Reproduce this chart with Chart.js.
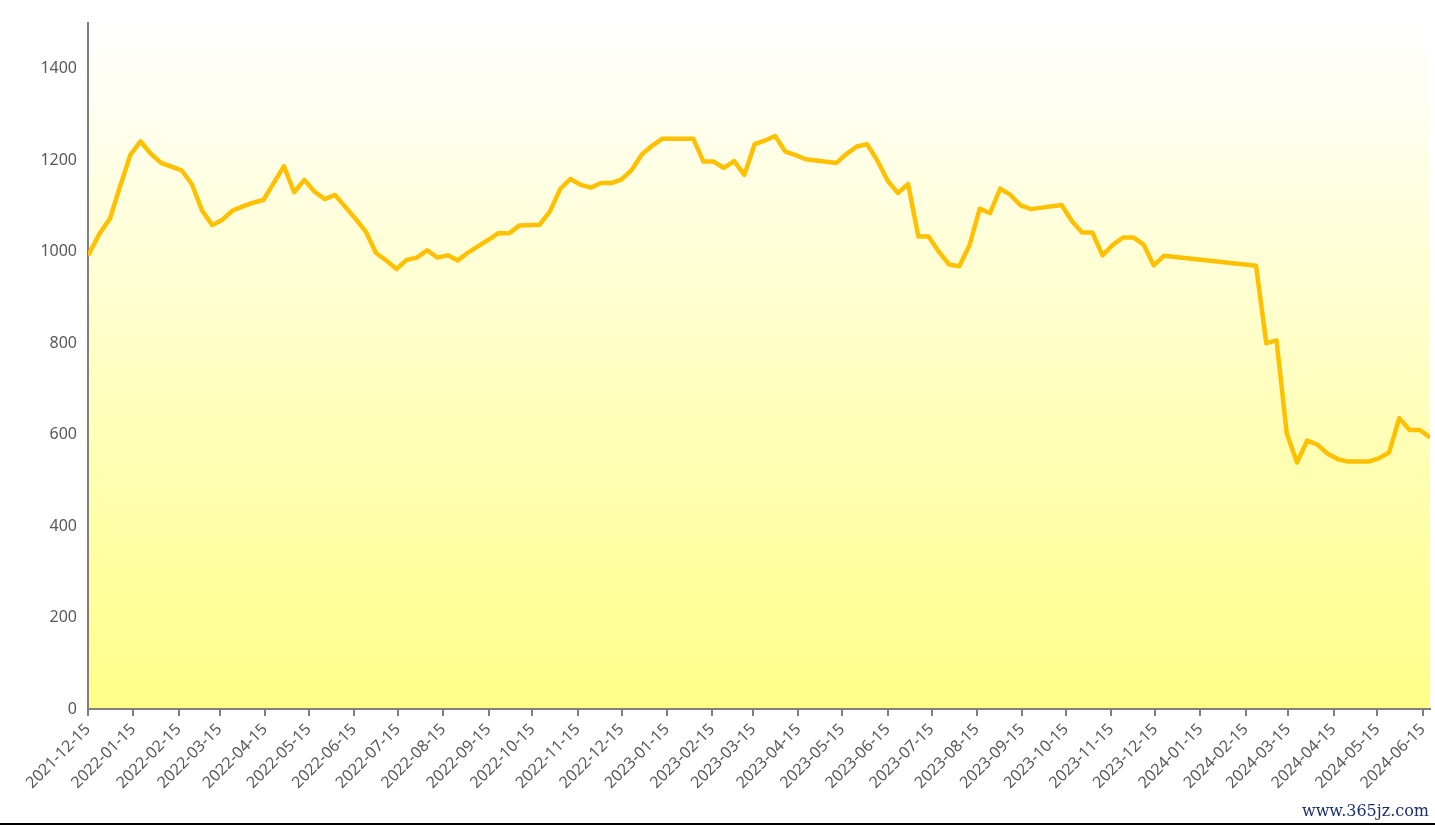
<!DOCTYPE html>
<html>
<head>
<meta charset="utf-8">
<script src="https://cdn.jsdelivr.net/npm/chart.js@4"></script>
<style>
  html, body { margin: 0; padding: 0; background: #fff; }
  #wrap { position: relative; width: 1435px; height: 823px; border-bottom: 2px solid #000; }
  #mark { position: absolute; right: 6px; bottom: 3px; font: 16px "DejaVu Serif", serif; color: #1b2f6b; }
</style>
</head>
<body>
<div id="wrap">
  <canvas id="chart0" width="1435" height="823"></canvas>
  <div id="mark">www.365jz.com</div>
</div>
<script>
/** weekly price data **/
var dates = [
  "2021-12-15","2021-12-23","2021-12-30","2022-01-06","2022-01-13","2022-01-20","2022-01-27","2022-02-03",
  "2022-02-17","2022-02-24","2022-03-03","2022-03-10","2022-03-17","2022-03-24","2022-03-31","2022-04-07",
  "2022-04-14","2022-04-21","2022-04-28","2022-05-05","2022-05-12","2022-05-19","2022-05-26","2022-06-02",
  "2022-06-09","2022-06-16","2022-06-23","2022-06-30","2022-07-07","2022-07-14","2022-07-21","2022-07-28",
  "2022-08-04","2022-08-11","2022-08-18","2022-08-25","2022-09-01","2022-09-08","2022-09-15","2022-09-22",
  "2022-09-29","2022-10-06","2022-10-20","2022-10-27","2022-11-03","2022-11-10","2022-11-17","2022-11-24",
  "2022-12-01","2022-12-08","2022-12-15","2022-12-22","2022-12-29","2023-01-05","2023-01-12","2023-02-02",
  "2023-02-09","2023-02-16","2023-02-23","2023-03-02","2023-03-09","2023-03-16","2023-03-23","2023-03-30",
  "2023-04-06","2023-04-13","2023-04-20","2023-05-11","2023-05-18","2023-05-25","2023-06-01","2023-06-08",
  "2023-06-15","2023-06-22","2023-06-29","2023-07-06","2023-07-13","2023-07-20","2023-07-27","2023-08-03",
  "2023-08-10","2023-08-17","2023-08-24","2023-08-31","2023-09-07","2023-09-14","2023-09-21","2023-10-12",
  "2023-10-19","2023-10-26","2023-11-02","2023-11-09","2023-11-16","2023-11-23","2023-11-30","2023-12-07",
  "2023-12-14","2023-12-21","2024-02-22","2024-02-29","2024-03-07","2024-03-14","2024-03-21","2024-03-28",
  "2024-04-04","2024-04-11","2024-04-18","2024-04-25","2024-05-09","2024-05-16","2024-05-23","2024-05-30",
  "2024-06-06","2024-06-13","2024-06-20"
];
var prices = [
  991,1040,1072,1143,1212,1241,1214,1194,
  1178,1148,1090,1058,1070,1090,1099,1107,
  1113,1150,1187,1130,1157,1131,1115,1124,
  1098,1072,1044,997,981,962,982,987,
  1003,987,992,981,998,1012,1026,1041,
  1040,1057,1059,1088,1137,1159,1146,1140,
  1150,1150,1158,1179,1213,1232,1247,1247,
  1197,1197,1183,1198,1168,1235,1243,1253,
  1219,1211,1202,1194,1214,1230,1235,1199,
  1155,1128,1148,1033,1033,1000,972,968,
  1014,1094,1084,1138,1124,1101,1093,1102,
  1067,1042,1042,992,1015,1031,1031,1016,
  970,991,969,800,806,603,539,587,
  578,558,546,541,541,548,561,636,
  610,610,594
];
/** axis ticks **/
var tickDates = [
  "2021-12-15","2022-01-15","2022-02-15","2022-03-15","2022-04-15","2022-05-15","2022-06-15",
  "2022-07-15","2022-08-15","2022-09-15","2022-10-15","2022-11-15","2022-12-15","2023-01-15",
  "2023-02-15","2023-03-15","2023-04-15","2023-05-15","2023-06-15","2023-07-15","2023-08-15",
  "2023-09-15","2023-10-15","2023-11-15","2023-12-15","2024-01-15","2024-02-15","2024-03-15",
  "2024-04-15","2024-05-15","2024-06-15"
];
var yTicks = [0, 200, 400, 600, 800, 1000, 1200, 1400];

function toTime(s) { return new Date(s + "T00:00:00Z").getTime(); }
function fmtDate(t) {
  var d = new Date(t);
  var m = d.getUTCMonth() + 1, day = d.getUTCDate();
  return d.getUTCFullYear() + "-" + (m < 10 ? "0" + m : m) + "-" + (day < 10 ? "0" + day : day);
}

var points = dates.map(function(d, i) { return { x: toTime(d), y: prices[i] }; });
var textColor = "#595959";
var axisColor = "#808080";

var bgPlugin = {
  id: "bgGradient",
  beforeDraw: function(chart) {
    var a = chart.chartArea, c = chart.ctx;
    var g = c.createLinearGradient(0, a.top, 0, a.bottom);
    g.addColorStop(0, "#ffffff");
    g.addColorStop(1, "#ffff88");
    c.save();
    c.fillStyle = g;
    c.fillRect(a.left, a.top, a.right - a.left, a.bottom - a.top);
    c.restore();
  }
};

var ctx = document.getElementById("chart0");
var chart = new Chart(ctx, {
  type: "line",
  data: {
    datasets: [{
      data: points,
      borderColor: "#ffc000",
      borderWidth: 4.5,
      pointRadius: 0,
      tension: 0,
      borderJoinStyle: "round",
      fill: false
    }]
  },
  plugins: [bgPlugin],
  options: {
    responsive: false,
    animation: false,
    layout: { padding: { top: 23, right: 5, left: 0, bottom: 0 } },
    plugins: { legend: { display: false }, tooltip: { enabled: false } },
    scales: {
      x: {
        type: "linear",
        min: toTime(tickDates[0]),
        max: toTime(dates[dates.length - 1]),
        afterBuildTicks: function(scale) {
          scale.ticks = tickDates.map(function(d) { return { value: toTime(d) }; });
        },
        afterFit: function(scale) {
          scale.height = 114;
          scale.paddingLeft = 0;
          scale.paddingRight = 0;
        },
        grid: {
          drawOnChartArea: false,
          drawTicks: true,
          tickLength: 7,
          color: axisColor,
          lineWidth: 2
        },
        border: { display: true, color: axisColor, width: 2 },
        ticks: {
          autoSkip: false,
          maxRotation: 45,
          minRotation: 45,
          padding: 4,
          color: textColor,
          font: { family: "'Noto Sans', sans-serif", size: 16 },
          callback: function(value) { return fmtDate(value); }
        }
      },
      y: {
        min: 0,
        max: 1500,
        afterBuildTicks: function(scale) {
          scale.ticks = yTicks.map(function(v) { return { value: v }; });
        },
        afterFit: function(scale) {
          scale.width = 88;
          scale.paddingTop = 0;
          scale.paddingBottom = 0;
        },
        grid: { display: false, drawTicks: false },
        border: { display: true, color: axisColor, width: 2 },
        ticks: {
          padding: 11,
          color: textColor,
          font: { family: "'Noto Sans', sans-serif", size: 16 },
          callback: function(value) { return String(value); }
        }
      }
    }
  }
});
</script>
</body>
</html>
